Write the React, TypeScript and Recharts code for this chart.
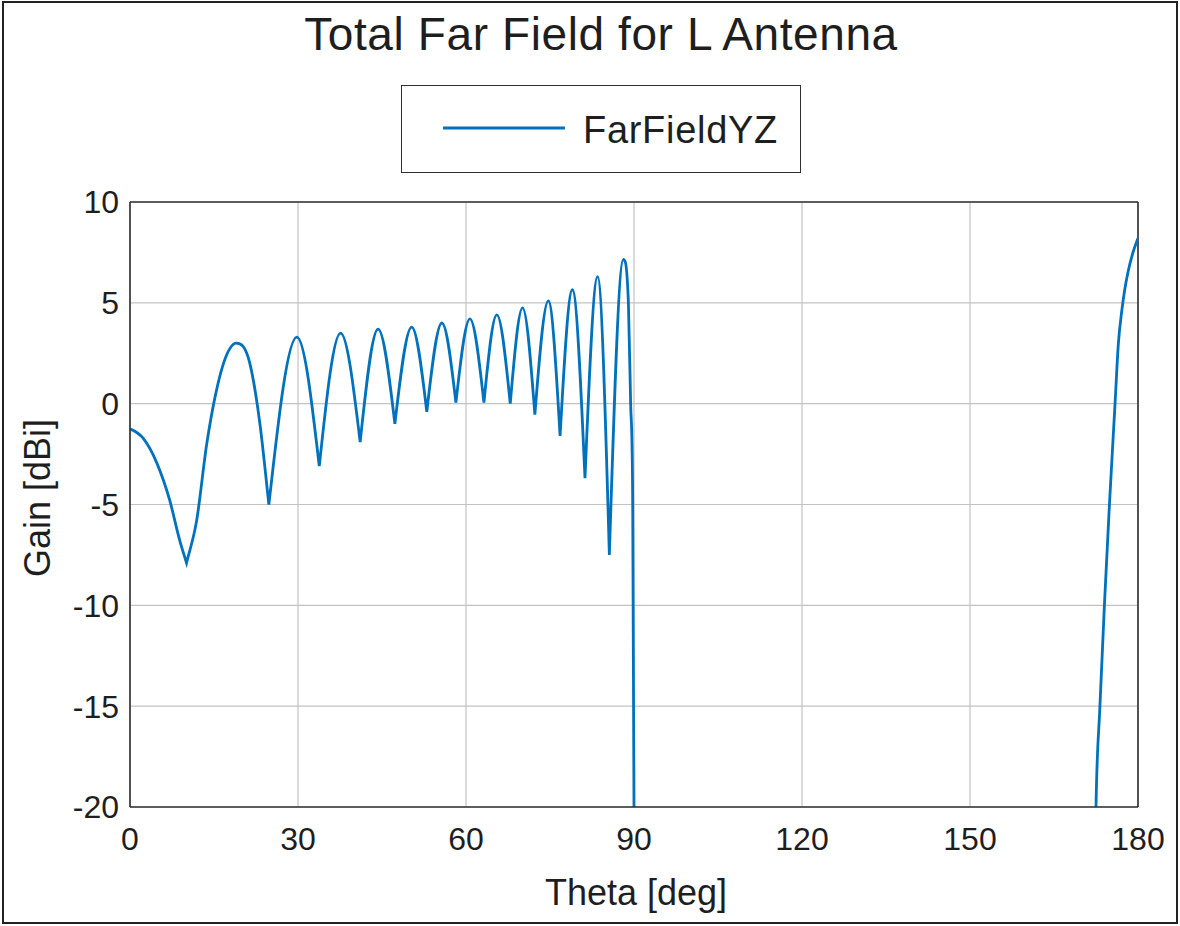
import React from 'react';
import { LineChart, Line, XAxis, YAxis, CartesianGrid, ReferenceLine, Legend } from 'recharts';

// ---- data (lobe peaks, nulls and a few flank points) ----
const thetaDeg: number[] = [
  0, 2.3, 4.8, 7.1, 8.9, 10.1, 11.9, 13.7, 15.2, 16.7, 19.0, 21.4, 23.2, 24.8,
  29.8, 33.8, 37.6, 41.1, 44.3, 47.3, 50.3, 53.0, 55.7, 58.2, 60.7, 63.2, 65.5, 67.9,
  70.1, 72.3, 74.7, 76.8, 79.0, 81.25, 83.5, 85.6, 88.1,
  89.0, 89.4, 89.77, 90.0, 90.2,
  130,
  172.0, 172.5, 173.2, 174.0, 174.9, 175.9, 176.5, 177.1, 177.6, 178.2, 179.0, 180,
];
const gainDbi: (number | null)[] = [
  -1.25, -1.7, -2.95, -4.8, -6.8, -7.9, -5.8, -2.0, 0.35, 2.0, 3.0, 2.0, -1.0, -5.0,
  3.3, -3.1, 3.5, -1.9, 3.7, -1.0, 3.8, -0.4, 4.0, 0.05, 4.2, 0.05, 4.4, 0.0,
  4.75, -0.55, 5.1, -1.6, 5.65, -3.7, 6.3, -7.5, 7.15,
  5.0, 0.0, -5.0, -20.0, -40.0,
  null,
  -30.0, -20.0, -15.0, -10.0, -5.0, 0.0, 3.0, 4.6, 5.6, 6.5, 7.4, 8.2,
];
const seriesName = 'FarFieldYZ';
const xTicks: number[] = [0, 30, 60, 90, 120, 150, 180];
const yTicks: number[] = [-20, -15, -10, -5, 0, 5, 10];
const chartTitle = 'Total Far Field for L Antenna';
const xLabel = 'Theta [deg]';
const yLabel = 'Gain [dBi]';

const data = thetaDeg.map((t, i) => ({ theta: t, gain: gainDbi[i] }));

const FONT = '"Liberation Sans", Arial, Helvetica, sans-serif';
const TEXT = '#1e1e1e';
const FRAME = '#303030';
const LINE = '#0072BD';

// Curve factory for a dB radiation pattern: rounded lobe peaks, sharp nulls.
const lobeCurve = (context: any) => {
  let xs: number[] = [];
  let ys: number[] = [];
  return {
    areaStart() {},
    areaEnd() {},
    lineStart() {
      xs = [];
      ys = [];
    },
    point(x: number, y: number) {
      xs.push(+x);
      ys.push(+y);
    },
    lineEnd() {
      const n = xs.length;
      if (!n) return;
      context.moveTo(xs[0], ys[0]);
      if (n === 1) return;
      if (n === 2) {
        context.lineTo(xs[1], ys[1]);
        return;
      }
      const h: number[] = [];
      const s: number[] = [];
      for (let i = 0; i < n - 1; i++) {
        h[i] = xs[i + 1] - xs[i];
        s[i] = h[i] !== 0 ? (ys[i + 1] - ys[i]) / h[i] : 0;
      }
      // local extremum flags (in screen y): peakGain = screen minimum
      const isPeak = (i: number) =>
        i > 0 && i < n - 1 && s[i - 1] < 0 && s[i] > 0;
      const mL: number[] = new Array(n).fill(0);
      const mR: number[] = new Array(n).fill(0);
      for (let i = 1; i < n - 1; i++) {
        const a = s[i - 1];
        const b = s[i];
        if (a > 0 && b < 0) {
          // screen-y maximum = gain null: keep a corner
          mL[i] = (isPeak(i - 1) ? 1.5 : 1.0) * a;
          mR[i] = (isPeak(i + 1) ? 1.5 : 1.0) * b;
        } else if (a * b <= 0) {
          mL[i] = 0;
          mR[i] = 0;
        } else {
          const p = (a * h[i] + b * h[i - 1]) / (h[i - 1] + h[i]);
          mL[i] = p;
          mR[i] = p;
        }
      }
      mR[0] = (3 * s[0] - mL[1]) / 2;
      mL[n - 1] = (3 * s[n - 2] - mR[n - 2]) / 2;
      for (let i = 0; i < n - 1; i++) {
        const sec = s[i];
        let m0 = mR[i];
        let m1 = mL[i + 1];
        if (sec === 0) {
          m0 = 0;
          m1 = 0;
        } else {
          let al = m0 / sec;
          let be = m1 / sec;
          if (al < 0) al = 0;
          if (be < 0) be = 0;
          const tau = al * al + be * be;
          if (tau > 9) {
            const k = 3 / Math.sqrt(tau);
            al *= k;
            be *= k;
          }
          m0 = al * sec;
          m1 = be * sec;
        }
        const dx = h[i] / 3;
        context.bezierCurveTo(
          xs[i] + dx,
          ys[i] + m0 * dx,
          xs[i + 1] - dx,
          ys[i + 1] - m1 * dx,
          xs[i + 1],
          ys[i + 1]
        );
      }
    },
  };
};

const renderLegend = (props: any) => {
  const item = props && props.payload && props.payload[0];
  return (
    <div
      style={{
        boxSizing: 'border-box',
        width: 400,
        height: 88,
        border: `1.6px solid ${FRAME}`,
        background: '#fff',
        position: 'relative',
        fontFamily: FONT,
      }}
    >
      <svg style={{ position: 'absolute', left: 41, top: 39 }} width={122} height={6}>
        <line x1={0} x2={122} y1={3} y2={3} stroke={item ? item.color : LINE} strokeWidth={3} />
      </svg>
      <span
        style={{
          position: 'absolute',
          left: 181,
          top: 25,
          fontSize: 38,
          lineHeight: '38px',
          letterSpacing: 0.7,
          color: TEXT,
          whiteSpace: 'nowrap',
        }}
      >
        {item ? item.value : seriesName}
      </span>
    </div>
  );
};

export default function App() {
  const tickStyle = { fontSize: 32, fill: TEXT, fontFamily: FONT };
  return (
    <div
      style={{
        position: 'absolute',
        left: 0,
        top: 0,
        width: 1180,
        height: 926,
        background: '#fff',
        fontFamily: FONT,
        overflow: 'hidden',
      }}
    >
      <LineChart
        width={1180}
        height={926}
        data={data}
        margin={{ top: 202, right: 42, bottom: 59, left: 30 }}
      >
        <CartesianGrid stroke="#c3c3c3" strokeWidth={1.2} />
        <XAxis
          type="number"
          dataKey="theta"
          domain={[0, 180]}
          ticks={xTicks}
          interval={0}
          height={60}
          tickLine={false}
          tickSize={6}
          tickMargin={14}
          axisLine={{ stroke: FRAME, strokeWidth: 1.6 }}
          tick={tickStyle}
          allowDataOverflow
        />
        <YAxis
          type="number"
          domain={[-20, 10]}
          ticks={yTicks}
          interval={0}
          width={100}
          tickLine={false}
          tickSize={6}
          tickMargin={5}
          axisLine={{ stroke: FRAME, strokeWidth: 1.6 }}
          tick={tickStyle}
          allowDataOverflow
        />
        <ReferenceLine y={10} stroke={FRAME} strokeWidth={1.6} />
        <ReferenceLine x={180} stroke={FRAME} strokeWidth={1.6} />
        <Legend
          content={renderLegend}
          layout="horizontal"
          verticalAlign="middle"
          align="center"
          wrapperStyle={{ left: 401, top: 85, width: 400, height: 88 }}
        />
        <Line
          type={lobeCurve as any}
          dataKey="gain"
          name={seriesName}
          stroke={LINE}
          strokeWidth={2.8}
          dot={false}
          activeDot={false}
          connectNulls={false}
          isAnimationActive={false}
        />
      </LineChart>

      <div
        style={{
          position: 'absolute',
          left: 601,
          top: 11,
          transform: 'translateX(-50%)',
          fontSize: 46,
          lineHeight: '46px',
          letterSpacing: 0.6,
          color: TEXT,
          whiteSpace: 'nowrap',
        }}
      >
        {chartTitle}
      </div>
      <div
        style={{
          position: 'absolute',
          left: 636,
          top: 893,
          transform: 'translate(-50%, -50%)',
          fontSize: 36,
          lineHeight: '36px',
          color: TEXT,
          whiteSpace: 'nowrap',
        }}
      >
        {xLabel}
      </div>
      <div
        style={{
          position: 'absolute',
          left: 37.5,
          top: 498,
          transform: 'translate(-50%, -50%) rotate(-90deg)',
          fontSize: 36,
          lineHeight: '36px',
          color: TEXT,
          whiteSpace: 'nowrap',
        }}
      >
        {yLabel}
      </div>
      <div
        style={{
          position: 'absolute',
          left: 2,
          top: 1,
          width: 1176,
          height: 923,
          boxSizing: 'border-box',
          border: '2px solid #222',
          pointerEvents: 'none',
        }}
      />
    </div>
  );
}
